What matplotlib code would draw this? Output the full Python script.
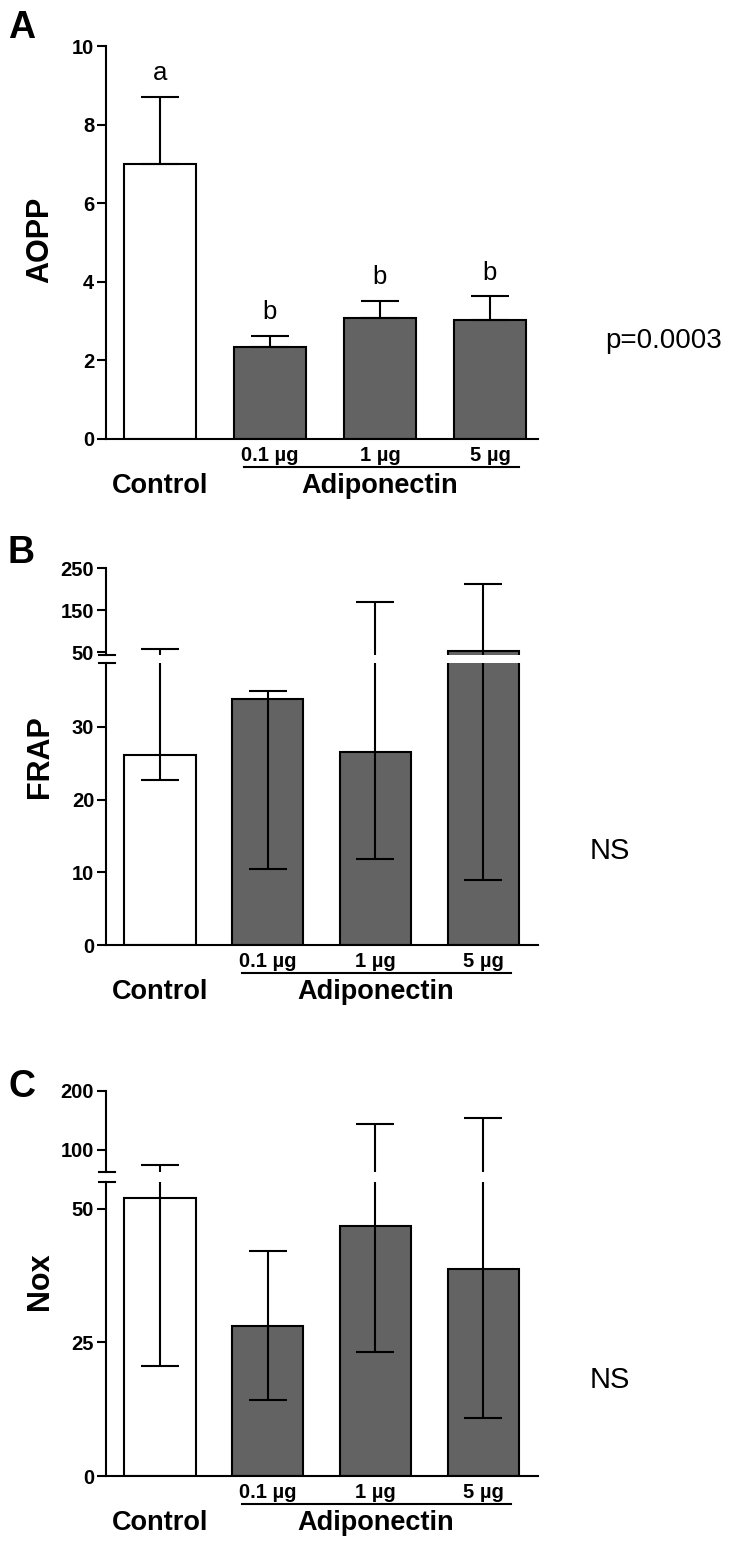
import matplotlib
matplotlib.use("Agg")
import matplotlib.pyplot as plt
import matplotlib.transforms as mtransforms
import numpy as np

plt.rcParams['font.family'] = ['Liberation Sans', 'DejaVu Sans']

# --- data ---
groups = ["Control", "0.1 µg", "1 µg", "5 µg"]

# A: AOPP, mean and top of error bar
aopp_mean = [7.0, 2.33, 3.07, 3.03]
aopp_top = [8.7, 2.63, 3.52, 3.63]
aopp_letters = ["a", "b", "b", "b"]

# B: FRAP, bar height and low/high ends of the error bar
frap_mean = [26.2, 33.8, 26.5, 52.5]
frap_low = [22.7, 10.5, 11.8, 8.9]
frap_high = [57.9, 34.9, 169, 212.6]

# C: Nox
nox_mean = [52.0, 28.1, 46.7, 38.8]
nox_low = [20.6, 14.3, 23.2, 10.8]
nox_high = [74.4, 42.1, 144, 154]

# --- layout ---
W, H = 733, 1543
fig = plt.figure(figsize=(W / 100, H / 100), dpi=100)
GREY = "#636363"
colors = ["white", GREY, GREY, GREY]
x = np.arange(len(groups))
LW = 1.5


def px_axes(left, right, top, bottom):
    return fig.add_axes([left / W, 1 - bottom / H, (right - left) / W, (bottom - top) / H])


def style(ax, xlim, bottom=True):
    ax.set_xlim(*xlim)
    ax.spines['right'].set_visible(False)
    ax.spines['top'].set_visible(False)
    ax.spines['left'].set_linewidth(LW)
    ax.spines['bottom'].set_linewidth(LW)
    ax.tick_params(axis='y', direction='out', length=6.5, width=LW, labelsize=14.5, pad=2)
    if bottom:
        ax.set_xticks(x)
        ax.set_xticklabels([""] + groups[1:], fontsize=14.5, fontweight='bold')
        ax.tick_params(axis='x', length=0, pad=5)
    else:
        ax.spines['bottom'].set_visible(False)
        ax.set_xticks([])
    for lab in ax.get_yticklabels():
        lab.set_fontweight('bold')


def draw_bars(ax, mean, lo, hi):
    ax.bar(x, mean, width=0.66, color=colors, edgecolor='black', linewidth=LW, zorder=2)
    yerr = [np.array(mean) - np.array(lo), np.array(hi) - np.array(mean)]
    ax.errorbar(x, mean, yerr=yerr, fmt='none', ecolor='black', elinewidth=LW,
                capsize=13.5, capthick=LW, zorder=3)


def group_labels(ax):
    trans = mtransforms.blended_transform_factory(ax.transData, ax.transAxes)
    line_tr = mtransforms.offset_copy(trans, fig=fig, x=0, y=-20, units='points')
    ax.plot([0.76, 3.26], [0, 0], transform=line_tr, color='black', lw=LW, clip_on=False)
    text_tr = mtransforms.offset_copy(trans, fig=fig, x=0, y=-34, units='points')
    ax.text(0, 0, "Control", transform=text_tr, ha='center', va='center',
            fontsize=19.5, fontweight='bold')
    ax.text(2.0, 0, "Adiponectin", transform=text_tr, ha='center', va='center',
            fontsize=19.5, fontweight='bold')


def break_marks(ax_low, ax_up):
    for ax, y in ((ax_low, 1), (ax_up, 0)):
        ax.plot([-0.016, 0.02], [y, y], transform=ax.transAxes, color='black',
                lw=LW, clip_on=False)


# Panel A
xlim_a = ((106 - 160) / 110, (538 - 160) / 110)
axA = px_axes(106, 538, 46, 439)
axA.bar(x, aopp_mean, width=0.66, color=colors, edgecolor='black', linewidth=LW, zorder=2)
axA.errorbar(x, aopp_mean, yerr=[np.zeros(4), np.array(aopp_top) - np.array(aopp_mean)],
             fmt='none', ecolor='black', elinewidth=LW, capsize=13.5, capthick=LW, zorder=3)
for xi, t, s in zip(x, aopp_top, aopp_letters):
    axA.annotate(s, xy=(xi, t), xytext=(0, 12), textcoords='offset points',
                 ha='center', va='baseline', fontsize=18.5)
axA.set_ylim(0, 10)
axA.set_yticks([0, 2, 4, 6, 8, 10])
style(axA, xlim_a)
group_labels(axA)

# Panel B (broken axis)
xlim_bc = ((106 - 160) / 107.7, (538 - 160) / 107.7)
axB_up = px_axes(106, 538, 568, 655)
axB = px_axes(106, 538, 663, 945)
for ax in (axB_up, axB):
    draw_bars(ax, frap_mean, frap_low, frap_high)
axB_up.set_ylim(42.9, 250)
axB_up.set_yticks([50, 150, 250])
axB.set_ylim(0, 38.8)
axB.set_yticks([0, 10, 20, 30])
style(axB_up, xlim_bc, bottom=False)
style(axB, xlim_bc)
break_marks(axB, axB_up)
group_labels(axB)

# Panel C (broken axis)
axC_up = px_axes(106, 538, 1091, 1172)
axC = px_axes(106, 538, 1182, 1476)
for ax in (axC_up, axC):
    draw_bars(ax, nox_mean, nox_low, nox_high)
axC_up.set_ylim(61.8, 200)
axC_up.set_yticks([100, 200])
axC.set_ylim(0, 55.0)
axC.set_yticks([0, 25, 50])
style(axC_up, xlim_bc, bottom=False)
style(axC, xlim_bc)
break_marks(axC, axC_up)
group_labels(axC)

# Panel letters, axis titles, statistics
for lab, yc in (("A", 28), ("B", 553), ("C", 1087)):
    fig.text(8 / W, 1 - yc / H, lab, fontsize=27, fontweight='bold', va='center', ha='left')
for lab, yc in (("AOPP", 240), ("FRAP", 757), ("Nox", 1281)):
    fig.text(40 / W, 1 - yc / H, lab, rotation=90, fontsize=22, fontweight='bold',
             va='center', ha='center')
fig.text(605 / W, 1 - 341 / H, "p=0.0003", fontsize=20, va='center', ha='left')
fig.text(590 / W, 1 - 851 / H, "NS", fontsize=21, va='center', ha='left')
fig.text(590 / W, 1 - 1380 / H, "NS", fontsize=21, va='center', ha='left')

fig.savefig("out.png", dpi=100)
